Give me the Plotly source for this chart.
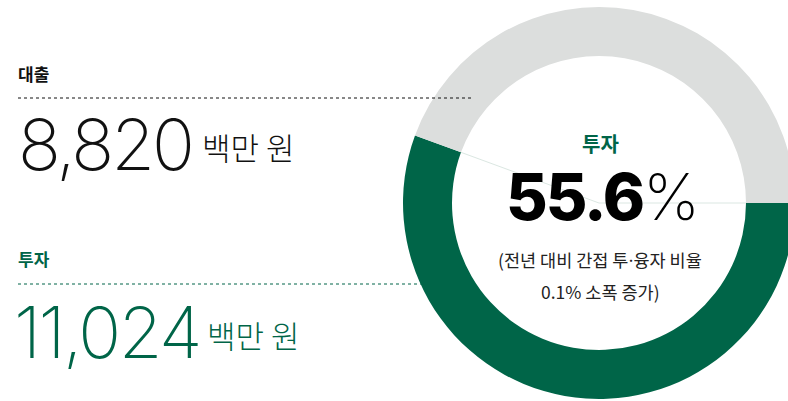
import math
import plotly.graph_objects as go

# data
labels = ["투자", "기타"]
values = [55.6, 44.4]
colors = ["#006548", "#dcdedd"]

loan_label = "대출"
loan_amount = "8,820"
invest_label = "투자"
invest_amount = "11,024"
unit = "백만 원"
center_title = "투자"
center_value = "55.6"
note_lines = ["(전년 대비 간접 투<span style='font-family:Inter'>·</span>융자 비율", "0.1% 소폭 증가)"]

GREEN = "#006548"
FONT = "Noto Sans CJK KR"
NUM_FONT = "Inter"

W, H = 800, 401  # slightly wider than the window so the ring can run off the right edge
cx, cy, R, r_in = 599, 203, 196, 147


def px(x):
    return x / W


def py(y):
    return 1 - y / H


fig = go.Figure()

fig.add_trace(
    go.Pie(
        labels=labels,
        values=values,
        marker=dict(colors=colors, line=dict(width=0)),
        hole=r_in / R,
        sort=False,
        direction="clockwise",
        rotation=90,
        textinfo="none",
        hoverinfo="label+percent",
        domain=dict(x=[px(cx - R), px(cx + R)], y=[py(cy + R), py(cy - R)]),
        showlegend=False,
    )
)

# faint slice edges inside the hole
share = values[0] / sum(values)
for frac in (0, share):
    ang = -2 * math.pi * frac  # clockwise from 3 o'clock
    x1 = cx + r_in * math.cos(ang)
    y1 = cy - r_in * math.sin(ang)
    fig.add_shape(type="line", xref="paper", yref="paper",
                  x0=px(cx), y0=py(cy), x1=px(x1), y1=py(y1),
                  line=dict(color="#dbe7e2", width=1))

# dashed leader lines
fig.add_shape(type="line", xref="paper", yref="paper",
              x0=px(18), x1=px(473), y0=py(98), y1=py(98),
              line=dict(color="#111111", width=1, dash="3px,3px"))
fig.add_shape(type="line", xref="paper", yref="paper", layer="below",
              x0=px(18), x1=px(421), y0=py(284), y1=py(284),
              line=dict(color=GREEN, width=1, dash="3px,3px"))


def note(text, x, y, size, color, weight=400, xanchor="left", yanchor="middle", family=FONT):
    fig.add_annotation(
        text=text, x=px(x), y=py(y), xref="paper", yref="paper",
        xanchor=xanchor, yanchor=yanchor, showarrow=False,
        font=dict(family=family, size=size, color=color, weight=weight),
    )


def tight(s, sp):
    return f"<span style='letter-spacing:{sp}px'>{s}</span>"


# left block
note(loan_label, 16, 73, 17, "#111111", 700)
note(tight(loan_amount, -3), 16, 144, 71, "#111111", 200, family=NUM_FONT)
note(unit, 200, 147, 31, "#111111", 200)
note(invest_label, 16, 258, 17, GREEN, 700)
note(tight(invest_amount, -2.5), 12, 332, 71, GREEN, 200, family=NUM_FONT)
note(unit, 205, 334, 31, GREEN, 200)

# centre of the donut
note(center_title, 600, 143, 20, GREEN, 700, xanchor="center")
note(tight("<span style='font-weight:800'>" + center_value + "</span>"
           "<span style='font-weight:200'>%</span>", -2),
     602, 197, 64, "#000000", 400, xanchor="center", family=NUM_FONT)
note(note_lines[0], 600, 259, 17.5, "#222222", 400, xanchor="center")
note(note_lines[1], 600, 291, 17.5, "#222222", 400, xanchor="center")

fig.update_layout(
    width=W,
    height=H,
    margin=dict(l=0, r=0, t=0, b=0),
    paper_bgcolor="white",
    plot_bgcolor="white",
    showlegend=False,
)

fig.write_html("out.html", config={"displayModeBar": False},
               post_script="document.body.style.margin='0';document.body.style.overflow='hidden';")
